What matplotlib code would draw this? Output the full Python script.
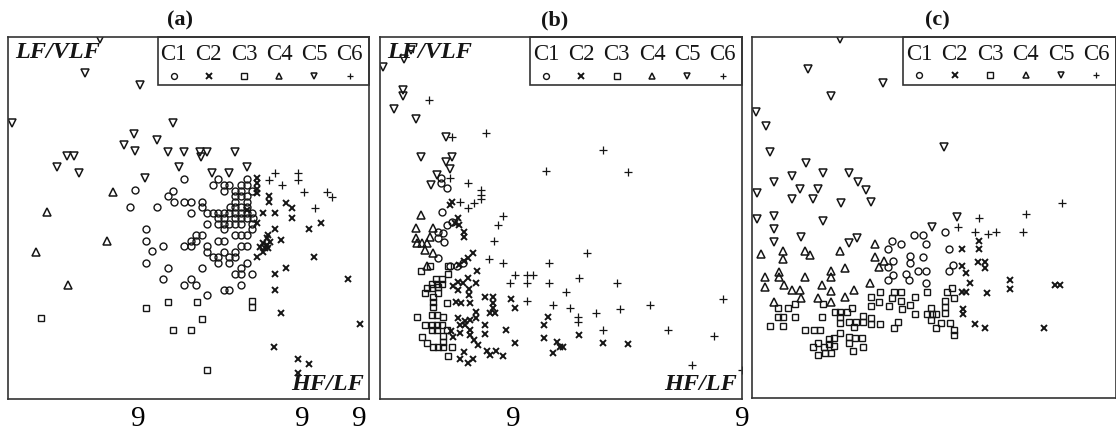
import matplotlib
matplotlib.use("Agg")
import matplotlib.pyplot as plt
from matplotlib.patches import Rectangle

plt.rcParams["font.family"] = ["Liberation Serif", "DejaVu Serif"]

CLASSES = ["C1", "C2", "C3", "C4", "C5", "C6"]
MARKERS = ["o", "x", "s", "^", "v", "+"]
PANELS = ["(a)", "(b)", "(c)"]

# ---- panel (a): (HF/LF, LF/VLF) per class ----
a_c1 = [(176, 220), (205, 214), (210, 220), (216, 214), (221, 214), (216, 208), (227, 208), (233, 214),
        (239, 220), (239, 214), (233, 208), (244, 208), (165, 208), (160, 203), (166, 197), (176, 197),
        (183, 197), (194, 197), (149, 192), (194, 192), (183, 186), (227, 203), (233, 203), (239, 203),
        (227, 197), (239, 197), (222, 192), (227, 192), (233, 192), (239, 192), (199, 186), (205, 186),
        (210, 186), (216, 186), (221, 186), (227, 186), (233, 186), (239, 186), (244, 186), (210, 181),
        (216, 181), (227, 181), (233, 181), (239, 181), (245, 181), (199, 175), (210, 175), (216, 175),
        (221, 175), (227, 175), (233, 175), (244, 175), (216, 170), (244, 170), (227, 164), (233, 164),
        (239, 164), (194, 164), (188, 164), (183, 158), (188, 158), (210, 158), (216, 158), (176, 153),
        (183, 153), (199, 153), (233, 153), (239, 153), (155, 153), (144, 148), (199, 147), (216, 147),
        (227, 147), (205, 142), (210, 142), (221, 142), (227, 142), (210, 136), (221, 136), (239, 136),
        (160, 131), (194, 131), (233, 131), (227, 125), (233, 125), (244, 125), (155, 120), (183, 120),
        (176, 114), (188, 114), (233, 114), (216, 109), (221, 109), (199, 104), (127, 209), (122, 192),
        (138, 170), (138, 158), (138, 136)]
a_c2 = [(249, 221), (249, 216), (249, 210), (249, 206), (261, 203), (261, 197), (278, 196), (284, 191),
        (239, 189), (255, 186), (267, 186), (284, 181), (249, 176), (267, 170), (301, 170), (313, 176),
        (273, 159), (260, 164), (259, 161), (262, 157), (255, 156), (259, 154), (252, 152), (257, 151),
        (260, 151), (255, 147), (249, 142), (306, 142), (278, 131), (267, 125), (340, 120), (267, 109),
        (273, 86), (352, 75), (266, 52), (290, 40), (301, 35), (290, 26)]
a_c3 = [(33, 81), (138, 91), (160, 97), (189, 97), (194, 80), (165, 69), (183, 69), (244, 98),
        (244, 92), (199, 29)]
a_c4 = [(105, 207), (39, 187), (28, 147), (99, 158), (60, 114)]
a_c5 = [(92, 360), (77, 326), (132, 314), (4, 276), (165, 276), (126, 265), (149, 259), (116, 254),
        (127, 248), (160, 247), (176, 247), (192, 247), (199, 247), (193, 242), (227, 247), (59, 243),
        (66, 243), (49, 232), (71, 226), (171, 232), (239, 232), (137, 221), (204, 226), (221, 226)]
a_c6 = [(267, 226), (261, 219), (274, 214), (290, 226), (290, 219), (296, 207), (319, 207), (324, 202),
        (307, 191)]

# ---- panel (b) ----
b_c1 = [(61, 221), (61, 216), (67, 211), (62, 187), (67, 174), (72, 177), (58, 167), (63, 166),
        (58, 161), (64, 157), (58, 141), (70, 133), (77, 133), (83, 136)]
b_c2 = [(72, 197), (70, 194), (78, 181), (75, 176), (79, 174), (84, 167), (84, 162), (93, 146),
        (88, 141), (84, 138), (79, 134), (97, 128), (88, 121), (83, 116), (78, 117), (73, 113),
        (78, 109), (89, 110), (96, 116), (89, 104), (76, 97), (81, 96), (90, 96), (96, 87),
        (105, 102), (113, 102), (113, 96), (113, 91), (110, 86), (115, 86), (131, 100), (135, 91),
        (78, 81), (85, 78), (90, 79), (96, 81), (80, 74), (90, 69), (85, 74), (105, 74),
        (105, 65), (71, 68), (80, 66), (73, 62), (90, 64), (94, 59), (98, 54), (107, 48),
        (110, 44), (116, 48), (123, 43), (84, 47), (80, 40), (88, 36), (93, 40), (126, 69),
        (135, 56), (168, 82), (164, 74), (164, 61), (177, 57), (180, 52), (183, 52), (173, 46),
        (199, 64), (223, 56), (248, 55)]
b_c3 = [(41, 128), (50, 133), (68, 133), (68, 125), (56, 120), (62, 120), (52, 115), (57, 115),
        (62, 115), (47, 111), (52, 111), (58, 112), (45, 106), (58, 106), (53, 102), (53, 97),
        (53, 92), (67, 96), (37, 82), (52, 84), (57, 84), (63, 82), (45, 74), (52, 74),
        (57, 74), (62, 74), (52, 69), (57, 69), (67, 69), (42, 62), (47, 56), (53, 52),
        (58, 52), (63, 52), (72, 52), (63, 63), (63, 57), (68, 43)]
b_c4 = [(41, 184), (36, 171), (53, 171), (36, 161), (50, 162), (37, 156), (42, 156), (47, 156),
        (45, 149), (53, 146), (47, 133)]
b_c5 = [(3, 332), (24, 340), (31, 349), (23, 309), (23, 303), (14, 290), (36, 280), (66, 262),
        (41, 242), (66, 237), (72, 242), (70, 230), (57, 224), (51, 214)]
b_c6 = [(49, 299), (72, 262), (106, 266), (223, 249), (166, 228), (248, 227), (88, 216), (101, 209),
        (101, 204), (101, 200), (94, 196), (88, 191), (80, 197), (70, 221), (123, 183), (118, 174),
        (114, 158), (207, 146), (109, 140), (123, 136), (169, 136), (135, 124), (147, 124), (153, 124),
        (130, 116), (147, 116), (169, 116), (199, 121), (237, 116), (186, 107), (147, 98), (173, 94),
        (190, 91), (240, 90), (270, 94), (343, 100), (216, 86), (198, 82), (198, 77), (223, 69),
        (288, 69), (334, 63), (312, 34), (362, 29)]

# ---- panel (c) ----
c_c1 = [(162, 163), (171, 163), (193, 166), (140, 157), (149, 154), (174, 154), (136, 149), (197, 149),
        (158, 142), (158, 135), (171, 141), (141, 137), (136, 131), (166, 127), (174, 127), (201, 133),
        (197, 127), (141, 123), (136, 118), (154, 124), (157, 118), (174, 115)]
c_c2 = [(210, 149), (227, 157), (227, 149), (226, 136), (233, 136), (233, 130), (210, 132), (214, 125),
        (218, 115), (210, 106), (214, 106), (235, 105), (258, 118), (258, 109), (303, 113), (308, 113),
        (211, 89), (211, 84), (223, 74), (233, 70), (292, 70)]
c_c3 = [(119, 101), (128, 106), (127, 96), (119, 92), (142, 106), (149, 106), (140, 100), (149, 97),
        (163, 101), (137, 92), (150, 89), (158, 93), (163, 84), (175, 106), (195, 106), (200, 110),
        (202, 100), (193, 97), (193, 91), (179, 90), (175, 84), (180, 84), (184, 84), (179, 78),
        (193, 85), (184, 70), (189, 75), (198, 75), (202, 68), (202, 63), (146, 76), (142, 70),
        (128, 74), (119, 80), (119, 74), (111, 82), (111, 76), (104, 76), (100, 90), (88, 86),
        (95, 86), (88, 81), (88, 75), (83, 86), (97, 76), (102, 71), (97, 61), (103, 60),
        (110, 60), (97, 55), (111, 51), (101, 47), (70, 81), (53, 68), (62, 68), (68, 68),
        (71, 94), (43, 81), (26, 90), (36, 90), (43, 94), (26, 81), (31, 81), (18, 72),
        (31, 72), (88, 65), (82, 60), (77, 59), (77, 54), (66, 55), (61, 51), (72, 51),
        (66, 43), (73, 45), (79, 45), (82, 52)]
c_c4 = [(9, 144), (31, 147), (31, 139), (53, 147), (58, 143), (88, 147), (123, 154), (13, 121),
        (13, 111), (27, 126), (27, 121), (32, 113), (53, 121), (79, 127), (79, 121), (93, 130),
        (123, 141), (132, 137), (127, 131), (118, 115), (40, 108), (48, 108), (70, 113), (79, 107),
        (102, 108), (49, 100), (22, 96), (66, 100), (79, 96), (93, 101)]
c_c5 = [(88, 359), (56, 329), (131, 315), (79, 302), (4, 286), (14, 272), (18, 246), (192, 251),
        (54, 235), (40, 222), (71, 225), (97, 225), (106, 216), (22, 216), (48, 209), (66, 209),
        (114, 208), (5, 205), (40, 199), (61, 199), (89, 195), (119, 196), (5, 179), (22, 182),
        (22, 169), (22, 156), (49, 161), (71, 177), (97, 155), (105, 160), (180, 171), (205, 181)]
c_c6 = [(310, 195), (274, 184), (227, 180), (206, 171), (223, 166), (236, 164), (244, 166), (271, 166)]

# stray "9" labels under the panels (HF/LF axis positions)
a_ticks = [130, 294, 351]
b_ticks = [133, 362]

panel_data = [
    [a_c1, a_c2, a_c3, a_c4, a_c5, a_c6],
    [b_c1, b_c2, b_c3, b_c4, b_c5, b_c6],
    [c_c1, c_c2, c_c3, c_c4, c_c5, c_c6],
]
panel_ticks = [a_ticks, b_ticks, []]

STYLE = {
    "o": dict(ms=5.0, mew=1.0),
    "x": dict(ms=4.6, mew=1.4),
    "s": dict(ms=4.6, mew=1.0),
    "^": dict(ms=5.2, mew=1.1),
    "v": dict(ms=5.2, mew=1.1),
    "+": dict(ms=5.2, mew=0.9),
}
INK = "#151515"

fig = plt.figure(figsize=(11.16, 4.37), dpi=100)
W, H = 1116, 437
# axes boxes in pixels: left, bottom, width, height
boxes = [(8, 38, 361, 362), (380, 38, 362, 362), (752, 39, 364, 361)]
title_x = [0.476, 0.483, 0.508]


def class_key(ax, x0=0.415, h=0.133):
    ax.add_patch(Rectangle((x0, 1 - h), 1 - x0, h, transform=ax.transAxes,
                           fill=False, lw=1.2, ec="#333333", clip_on=False, zorder=5))
    step = (1 - x0) / len(CLASSES)
    for i, (lbl, m) in enumerate(zip(CLASSES, MARKERS)):
        cx = x0 + step * (i + 0.45)
        ax.text(cx, 1 - h * 0.36, lbl, transform=ax.transAxes, ha="center",
                va="center", fontsize=16.5, color=INK)
        ax.plot([cx], [1 - h * 0.8], marker=m, ls="none", color=INK, mfc="none",
                ms=STYLE[m]["ms"] * 0.85, mew=STYLE[m]["mew"], transform=ax.transAxes)


for k, (l, b, w, h) in enumerate(boxes):
    ax = fig.add_axes([l / W, b / H, w / W, h / H])
    for pts, m in zip(panel_data[k], MARKERS):
        xs = [p[0] for p in pts]
        ys = [p[1] for p in pts]
        ax.plot(xs, ys, marker=m, ls="none", color=INK, mfc="none", **STYLE[m])
    ax.set_xlim(0, w)
    ax.set_ylim(0, h)
    ax.set_yticks([])
    ax.set_xticks(panel_ticks[k], labels=["9"] * len(panel_ticks[k]))
    ax.tick_params(axis="x", length=0, labelsize=21, pad=5)
    for sp in ax.spines.values():
        sp.set_color("#333333")
        sp.set_linewidth(1.2)

    class_key(ax)
    ax.text(title_x[k], 1.047, PANELS[k], transform=ax.transAxes, ha="center",
            va="center", fontsize=16, fontweight="bold", color=INK)
    if k < 2:
        ax.text(0.02, 0.956, "LF/VLF", transform=ax.transAxes, ha="left", va="center",
                fontsize=17.5, fontweight="bold", fontstyle="italic", color=INK)
        ax.text(0.985, 0.04, "HF/LF", transform=ax.transAxes, ha="right", va="center",
                fontsize=17.5, fontweight="bold", fontstyle="italic", color=INK)

fig.savefig("out.png", dpi=100, facecolor="white")
